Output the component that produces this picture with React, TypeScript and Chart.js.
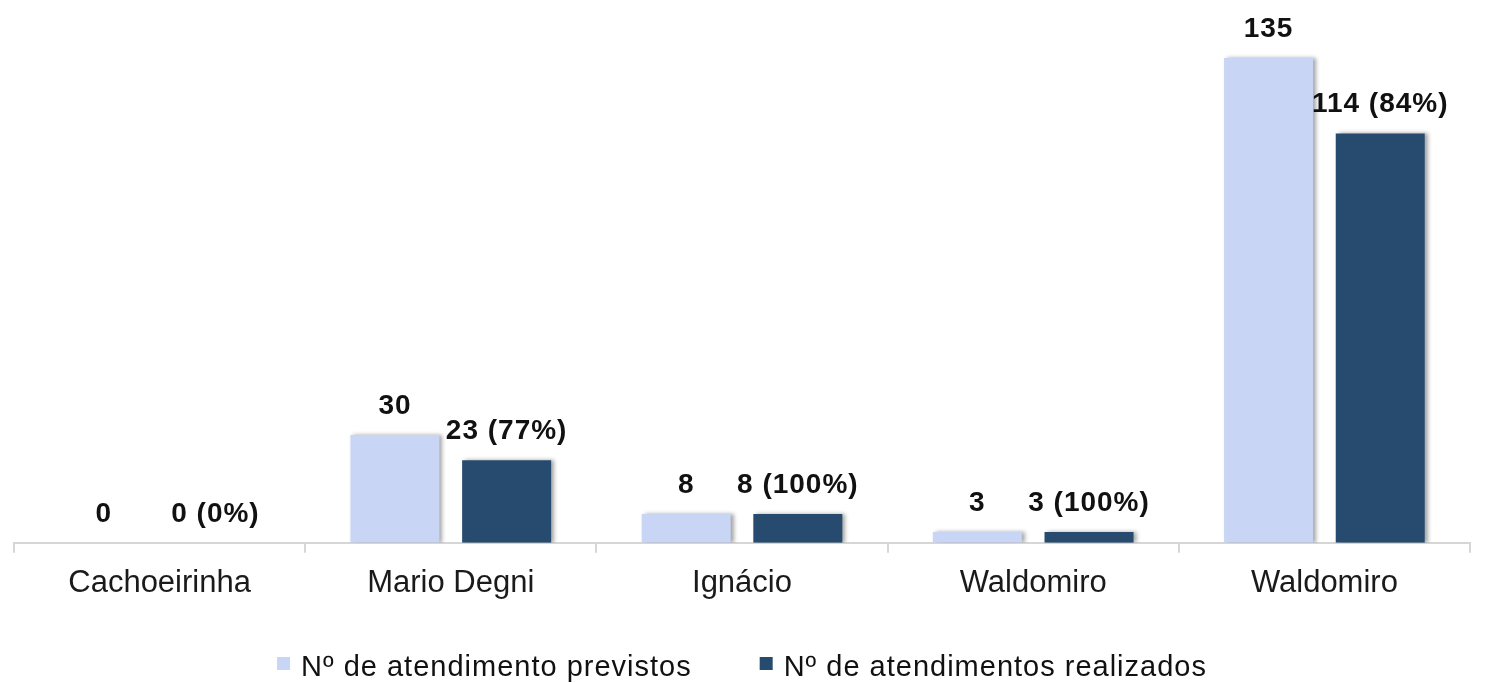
import React, { useEffect, useRef } from "react";
import { Chart, registerables } from "chart.js";

Chart.register(...registerables);

const categories = ["Cachoeirinha", "Mario Degni", "Ignácio", "Waldomiro", "Waldomiro"];
const previstos = [0, 30, 8, 3, 135];
const realizados = [0, 23, 8, 3, 114];
const seriesNames = ["Nº de atendimento previstos", "Nº de atendimentos realizados"];
const yMax = 140;

const LIGHT = "#c9d5f5";
const DARK = "#264b6e";
const FONT = "'Liberation Sans', Arial, sans-serif";

function realizedLabel(i: number): string {
  const p = previstos[i];
  const r = realizados[i];
  const pct = p > 0 ? Math.round((r / p) * 100) : 0;
  return `${r} (${pct}%)`;
}

const shadowPlugin = {
  id: "barShadow",
  beforeDatasetsDraw(chart: any) {
    const ctx = chart.ctx;
    ctx.save();
    ctx.shadowColor = "rgba(0,0,0,0.35)";
    ctx.shadowOffsetX = 3;
    ctx.shadowOffsetY = 0;
    ctx.shadowBlur = 4;
  },
  afterDatasetsDraw(chart: any) {
    chart.ctx.restore();
  },
};

const valueLabelPlugin = {
  id: "valueLabels",
  afterDatasetsDraw(chart: any) {
    const ctx = chart.ctx;
    ctx.save();
    ctx.font = `bold 28px ${FONT}`;
    try {
      (ctx as any).letterSpacing = "1px";
    } catch (e) {}
    ctx.fillStyle = "#111111";
    ctx.textAlign = "center";
    ctx.textBaseline = "alphabetic";
    chart.data.datasets.forEach((ds: any, di: number) => {
      const meta = chart.getDatasetMeta(di);
      meta.data.forEach((el: any, i: number) => {
        const text = di === 0 ? String(ds.data[i]) : realizedLabel(i);
        ctx.fillText(text, el.x, el.y - 21);
      });
    });
    ctx.restore();
  },
};

const legendPlugin = {
  id: "customLegend",
  afterDraw(chart: any) {
    const ctx = chart.ctx;
    ctx.save();
    const fontSize = 29;
    ctx.font = `${fontSize}px ${FONT}`;
    try {
      (ctx as any).letterSpacing = "1px";
    } catch (e) {}
    const box = 13;
    const gap = 11;
    const spacing = 68;
    const items = chart.data.datasets.map((ds: any) => ({
      label: ds.label,
      color: ds.backgroundColor,
      w: box + gap + ctx.measureText(ds.label).width,
    }));
    const total = items.reduce((s: number, it: any) => s + it.w, 0) + spacing * (items.length - 1);
    let x = chart.width / 2 - total / 2 - 2;
    const cy = 668;
    ctx.textBaseline = "middle";
    ctx.textAlign = "left";
    items.forEach((it: any) => {
      ctx.fillStyle = it.color;
      ctx.fillRect(x, cy - 11, box, box);
      ctx.fillStyle = "#111111";
      ctx.fillText(it.label, x + box + gap, cy);
      x += it.w + spacing;
    });
    ctx.restore();
  },
};

export default function App() {
  const canvasRef = useRef<HTMLCanvasElement | null>(null);

  useEffect(() => {
    if (!canvasRef.current) return;
    const chart = new Chart(canvasRef.current, {
      type: "bar",
      data: {
        labels: categories,
        datasets: [
          {
            label: seriesNames[0],
            data: previstos,
            backgroundColor: LIGHT,
            borderWidth: 0,
            categoryPercentage: 0.767,
            barPercentage: 0.797,
          },
          {
            label: seriesNames[1],
            data: realizados,
            backgroundColor: DARK,
            borderWidth: 0,
            categoryPercentage: 0.767,
            barPercentage: 0.797,
          },
        ],
      },
      options: {
        animation: false,
        responsive: true,
        maintainAspectRatio: false,
        layout: { padding: { left: 14, right: 18, top: 40, bottom: 69 } },
        plugins: {
          legend: { display: false },
          tooltip: { enabled: false },
        },
        scales: {
          x: {
            offset: true,
            grid: {
              display: true,
              offset: true,
              drawOnChartArea: false,
              drawTicks: true,
              tickLength: 10,
              color: "#d6d6d6",
              lineWidth: 2,
            },
            border: { display: true, color: "#d6d6d6", width: 2 },
            ticks: {
              color: "#1a1a1a",
              padding: 12,
              maxRotation: 0,
              autoSkip: false,
              font: { family: FONT, size: 31 },
            },
          },
          y: {
            display: false,
            min: 0,
            max: yMax,
          },
        },
      },
      plugins: [shadowPlugin, valueLabelPlugin, legendPlugin],
    });
    return () => chart.destroy();
  }, []);

  return (
    <div
      style={{
        position: "fixed",
        left: 0,
        top: 0,
        width: 1488,
        height: 683,
        background: "#ffffff",
      }}
    >
      <canvas ref={canvasRef} />
    </div>
  );
}
